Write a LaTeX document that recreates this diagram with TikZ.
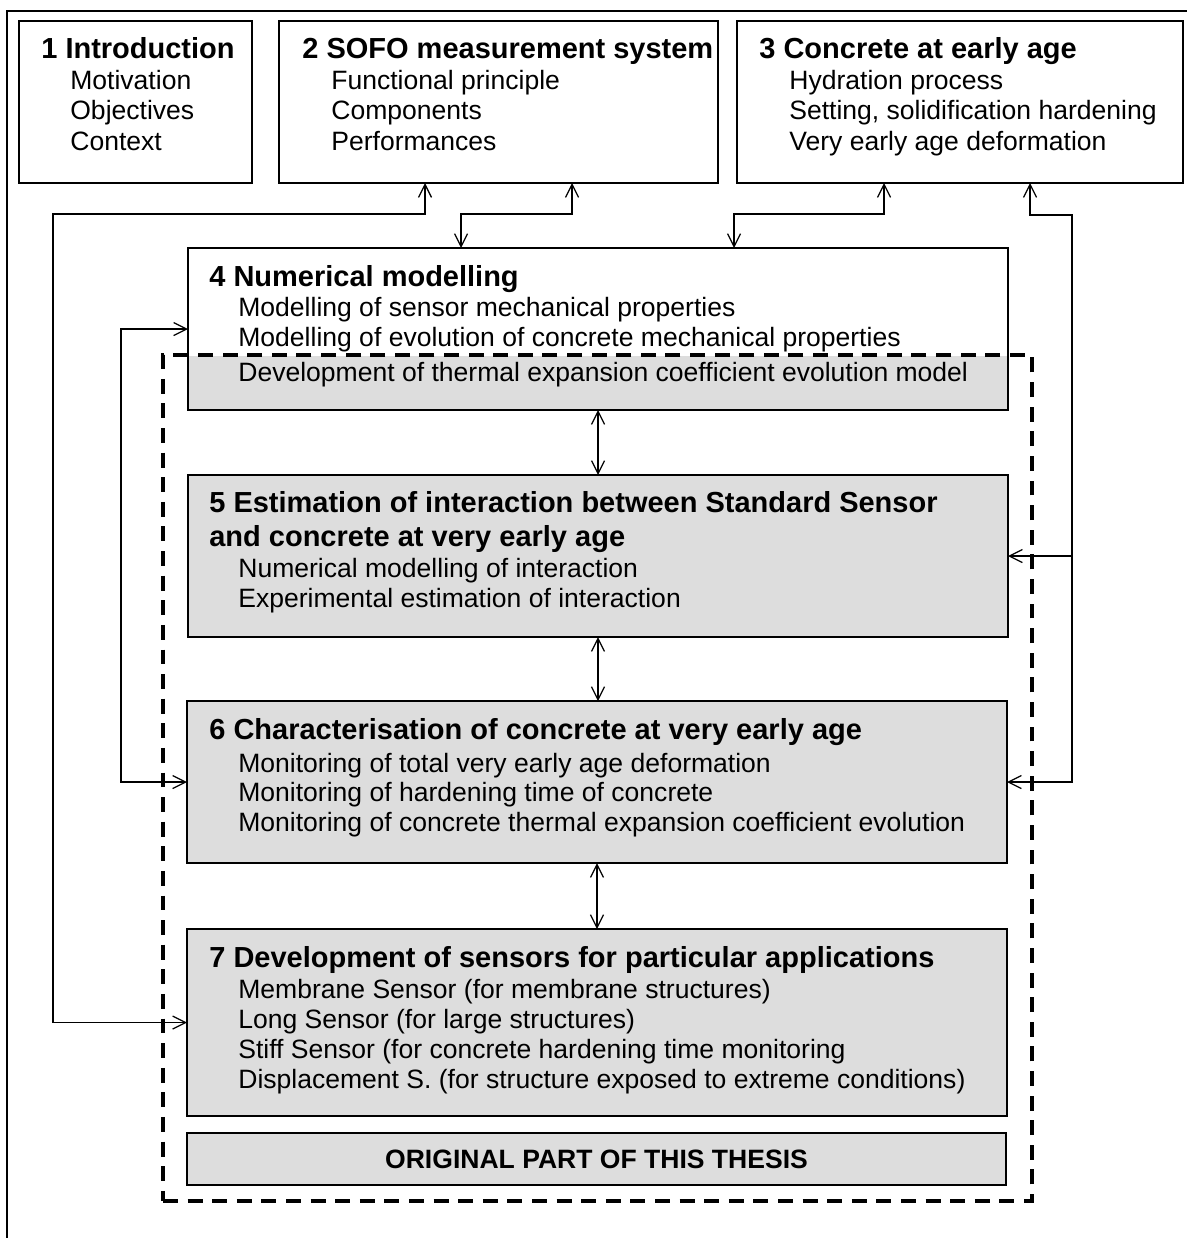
\documentclass[tikz,border=0pt]{standalone}
\usepackage{fontspec}
\setmainfont{Liberation Sans}
\usepackage{tikz}
\usetikzlibrary{fit,arrows.meta}
\definecolor{partgray}{RGB}{221,221,221}

\begin{document}
\begin{tikzpicture}[x=0.2mm, y=-0.2mm, >={Straight Barb[length=2.6mm,width=2.6mm]},
	chapter/.style={draw, line width=1.3pt, inner sep=0pt, outer sep=0pt},
	shaded/.style={chapter, fill=partgray},
	owndash/.style={draw, line width=2.1pt, dash pattern=on 8.5pt off 5.5pt, inner sep=0pt, outer sep=0pt},
	title/.style={anchor=base west, inner sep=0pt, font=\fontsize{16.5}{19}\selectfont\bfseries},
	item/.style={anchor=base west, inner sep=0pt, font=\fontsize{15.1}{17}\selectfont},
	link/.style={line width=0.7pt}]

			\useasboundingbox (0,0) rectangle (1187,1238);
			\draw[line width=1.1pt] (7,1238) -- (7,11) -- (1187,11);

			% chapter boxes
			\node[chapter, fit={(19,21) (252,183)}] (c1) {};
			\node[chapter, fit={(279,21) (718,183)}] (c2) {};
			\node[chapter, fit={(737,21) (1183,183)}] (c3) {};
			\fill[partgray] (188,356) rectangle (1008,410);
			\node[chapter, fit={(188,248) (1008,410)}] (c4) {};
			\node[shaded, fit={(188,475) (1008,637)}] (c5) {};
			\node[shaded, fit={(187,701) (1007,863)}] (c6) {};
			\node[shaded, fit={(187,929) (1007,1116)}] (c7) {};
			\node[shaded, fit={(187,1133) (1006,1185)}] (orig) {};
			\node[owndash, fit={(163,355) (1032,1201)}] (own) {};

			% titles
			\node[title] (t1) at (41,58) {1 Introduction};
			\node[title] (t2) at (302,58) {2 SOFO measurement system};
			\node[title] (t3) at (759,58) {3 Concrete at early age};
			\node[title] (t4) at (209,286) {4 Numerical modelling};
			\node[title] (t5) at (209,512) {5 Estimation of interaction between Standard Sensor};
			\node[title] (t5b) at (209,546) {and concrete at very early age};
			\node[title] (t6) at (209,739) {6 Characterisation of concrete at very early age};
			\node[title] (t7) at (209,967) {7 Development of sensors for particular applications};
			\node[font=\fontsize{15.1}{17}\selectfont\bfseries, inner sep=0pt] (origtext) at (orig) {ORIGINAL PART OF THIS THESIS};

			% items
			\foreach \t [count=\i] in {Motivation, Objectives, Context}
				\node[item] (i1-\i) at (70, {89+30.5*(\i-1)}) {\t};
			\foreach \t [count=\i] in {Functional principle, Components, Performances}
				\node[item] (i2-\i) at (331, {89+30.5*(\i-1)}) {\t};
			\foreach \t [count=\i] in {Hydration process, {Setting, solidification hardening}, Very early age deformation}
				\node[item] (i3-\i) at (789, {89+30.5*(\i-1)}) {\t};
			\foreach \t [count=\i] in {Modelling of sensor mechanical properties, Modelling of evolution of concrete mechanical properties}
				\node[item] (i4-\i) at (238, {316+30*(\i-1)}) {\t};
			\node[item] (i4-3) at (238,381) {Development of thermal expansion coefficient evolution model};
			\foreach \t [count=\i] in {Numerical modelling of interaction, Experimental estimation of interaction}
				\node[item] (i5-\i) at (238, {577+30*(\i-1)}) {\t};
			\foreach \t [count=\i] in {Monitoring of total very early age deformation, Monitoring of hardening time of concrete, Monitoring of concrete thermal expansion coefficient evolution}
				\node[item] (i6-\i) at (238, {772+29.5*(\i-1)}) {\t};
			\foreach \t [count=\i] in {Membrane Sensor (for membrane structures), Long Sensor (for large structures), Stiff Sensor (for concrete hardening time monitoring, Displacement S. (for structure exposed to extreme conditions)}
				\node[item] (i7-\i) at (238, {998+30.3*(\i-1)}) {\t};

			% links
			\coordinate (rail) at (1072,556);
			\draw[link, <->] (c2.south -| 425,0) |- (53,214) |- (c7.west);
			\draw[link, <->] (c4.west) -| (121,782) -- (c6.west);
			\draw[link, <->] (c4.north -| 461,0) |- (572,214) -- (c2.south -| 572,0);
			\draw[link, <->] (c4.north -| 734,0) |- (884,214) -- (c3.south -| 884,0);
			\draw[link, <->] (c6.east) -| (1072,215) -| (c3.south -| 1030,0);
			\draw[link, ->] (rail) -- (c5.east);
			\draw[link, <->] (c4.south) -- (c5.north);
			\draw[link, <->] (c5.south) -- (c5.south |- c6.north);
			\draw[link, <->] (c6.south) -- (c7.north);
		\end{tikzpicture}
\end{document}
